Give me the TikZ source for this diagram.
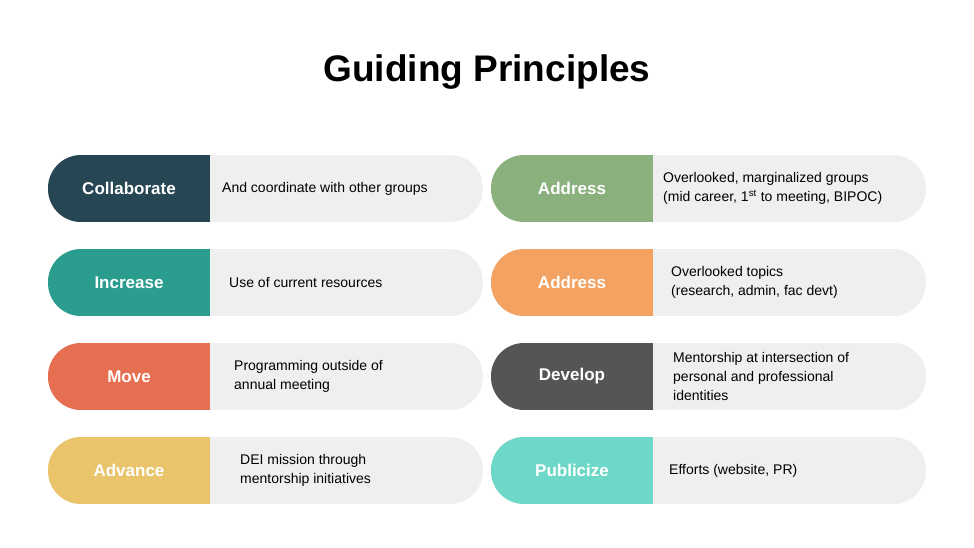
\documentclass[tikz,border=0pt]{standalone}
\usepackage{fontspec}
\setmainfont{Liberation Sans}
\definecolor{cCollab}{HTML}{264653}
\definecolor{cIncrease}{HTML}{2A9D8F}
\definecolor{cMove}{HTML}{E76F51}
\definecolor{cAdvance}{HTML}{E9C46A}
\definecolor{cAddrA}{HTML}{8AB17D}
\definecolor{cAddrB}{HTML}{F4A261}
\definecolor{cDevelop}{HTML}{555555}
\definecolor{cPublic}{HTML}{6ED8C8}
\definecolor{pillgrey}{HTML}{EFEFEF}
\tikzset{
  labeltext/.style={text=white, font=\bfseries\fontsize{17}{20}\selectfont},
  desctext/.style={anchor=west, align=left, inner sep=0pt, font=\fontsize{14}{19}\selectfont}
}
\newcommand{\principle}[7]{% name, x, y, colour, label, text offset, text
  \begin{scope}
    \clip[rounded corners=33] (#2,#3) rectangle ++(435,67);
    \fill[pillgrey] (#2,#3) rectangle ++(435,67);
    \fill[#4] (#2,#3) rectangle ++(162,67);
  \end{scope}
  \node[labeltext] (#1-lbl) at (#2+81,#3+33.5) {#5};
  \node[desctext] (#1-txt) at (#2+#6,#3+33.5) {#7};
}
\begin{document}
\begin{tikzpicture}[x=1pt,y=-1pt]
  \useasboundingbox[fill=white] (0,0) rectangle (974,547);
  \node[font=\bfseries\fontsize{37}{40}\selectfont] (title) at (487,72) {Guiding Principles};
  % left column
  \principle{collab}{48}{155}{cCollab}{Collaborate}{174}{And coordinate with other groups}
  \principle{incr}{48}{249}{cIncrease}{Increase}{181}{Use of current resources}
  \principle{move}{48}{343}{cMove}{Move}{186}{Programming outside of\\annual meeting}
  \principle{adv}{48}{437}{cAdvance}{Advance}{192}{DEI mission through\\mentorship initiatives}
  % right column
  \principle{addra}{491}{155}{cAddrA}{Address}{172}{Overlooked, marginalized groups\\(mid career, 1\textsuperscript{st} to meeting, BIPOC)}
  \principle{addrb}{491}{249}{cAddrB}{Address}{180}{Overlooked topics\\(research, admin, fac devt)}
  \principle{dev}{491}{343}{cDevelop}{Develop}{182}{Mentorship at intersection of\\personal and professional\\identities}
  \principle{pub}{491}{437}{cPublic}{Publicize}{178}{Efforts (website, PR)}
\end{tikzpicture}
\end{document}
